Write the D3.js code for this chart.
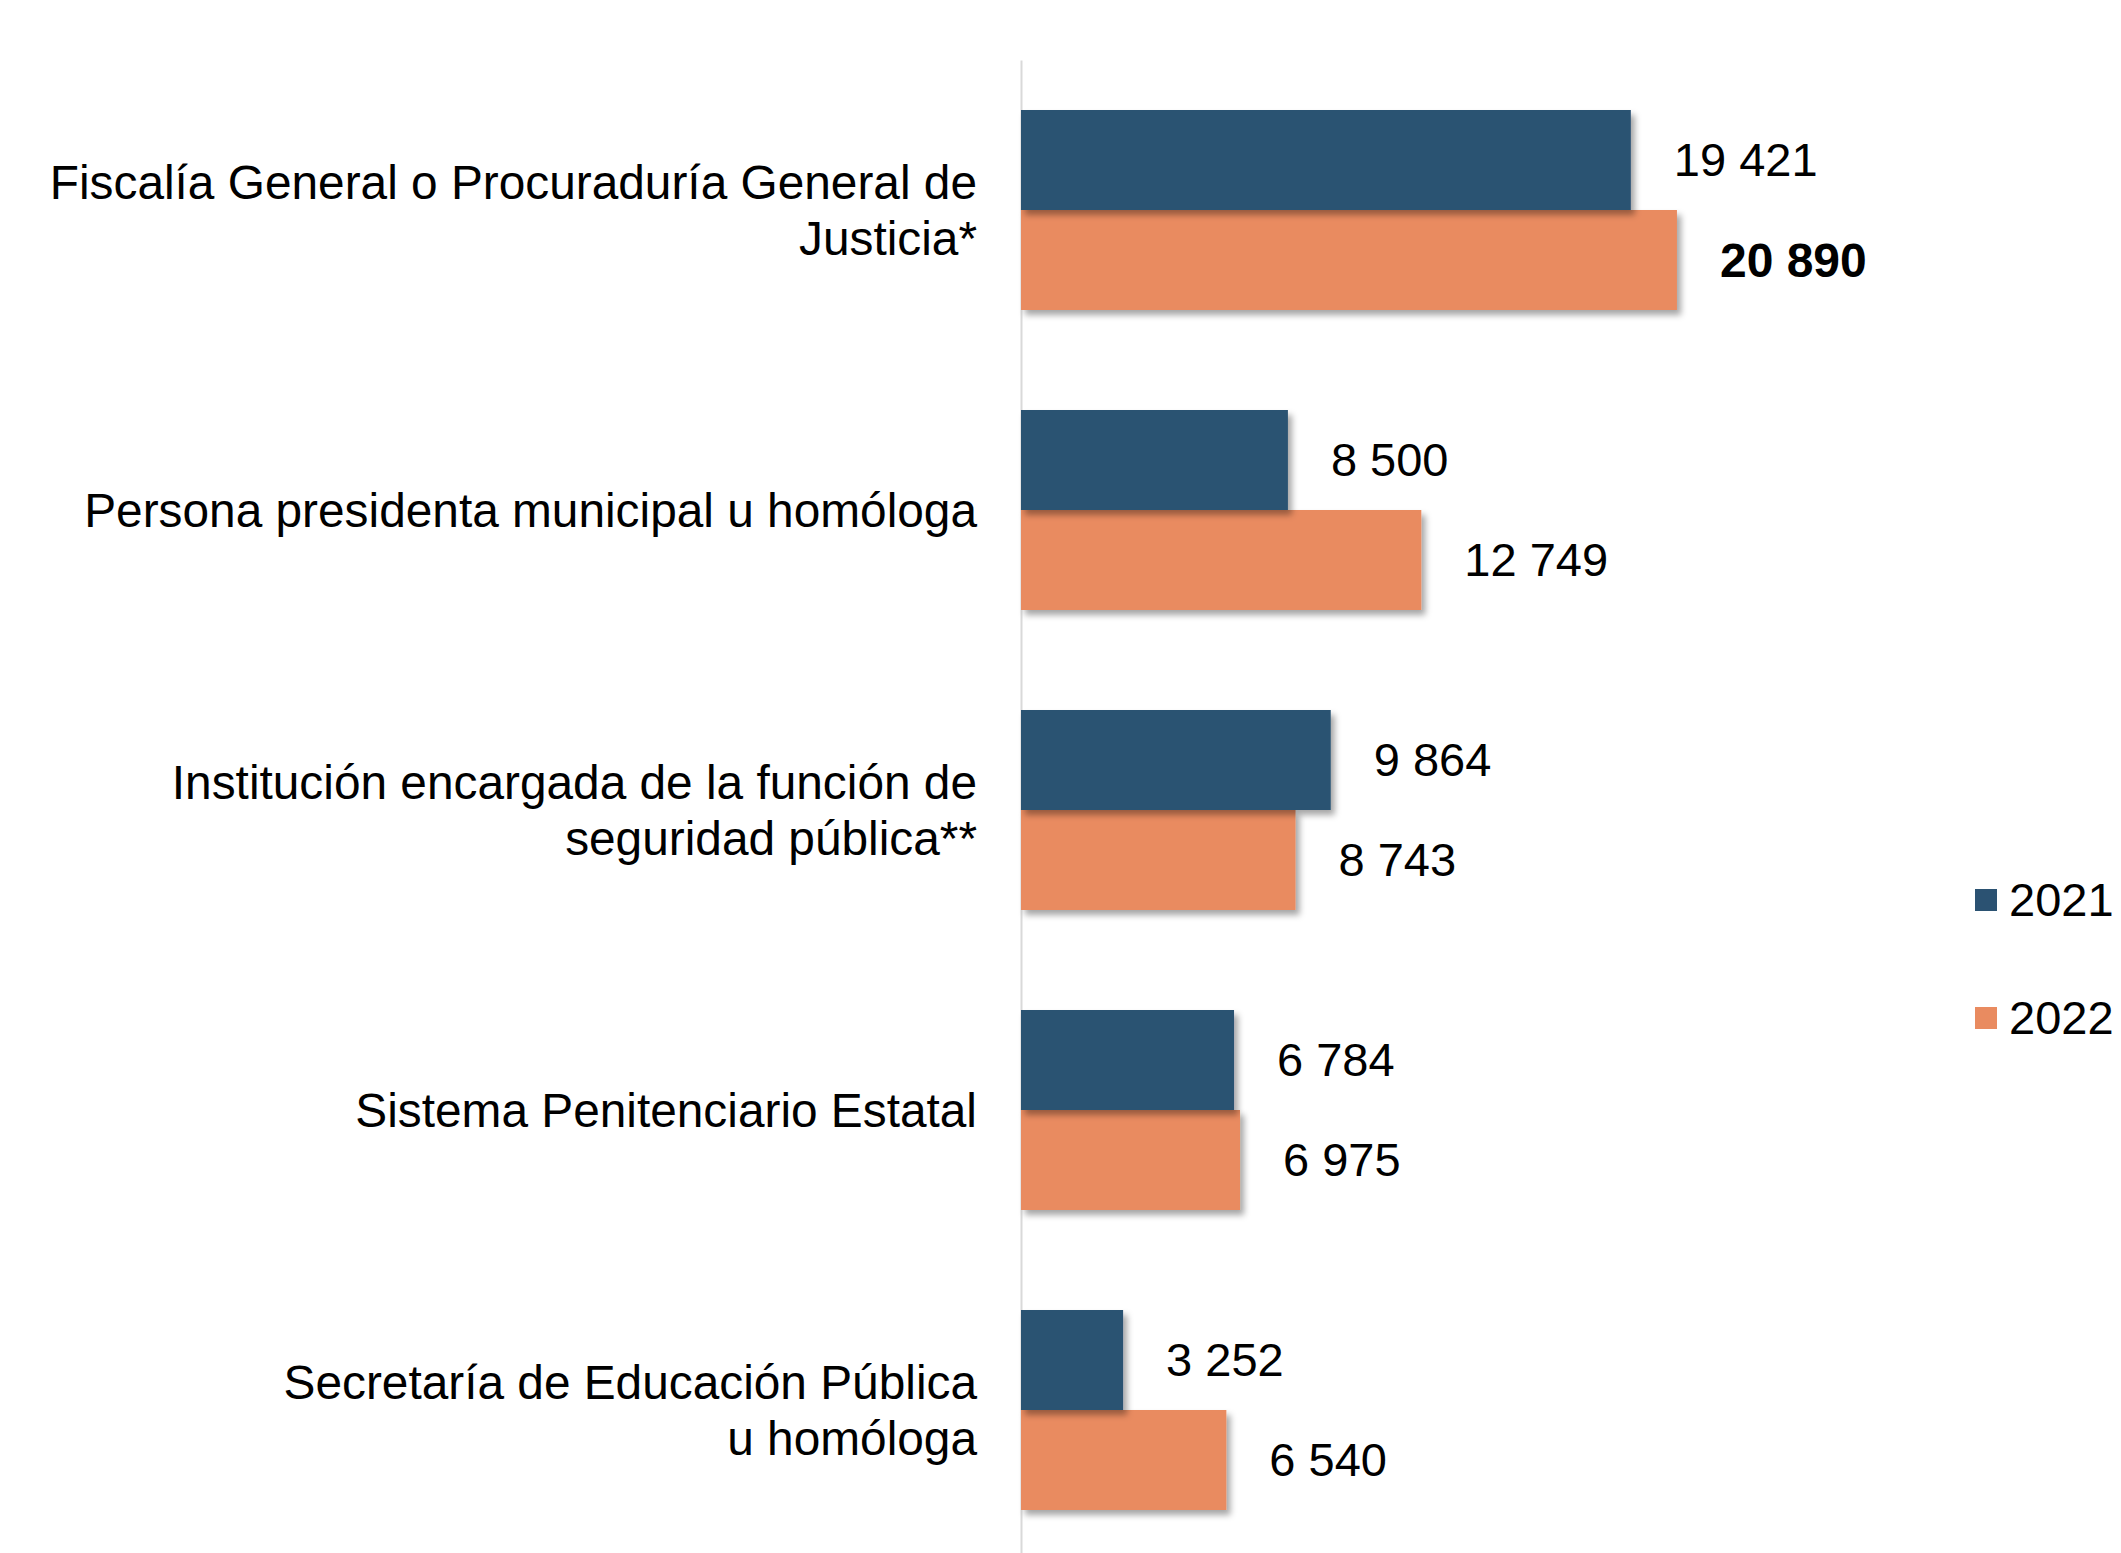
<!DOCTYPE html>
<html>
<head>
<meta charset="utf-8">
<script src="https://cdn.jsdelivr.net/npm/d3@7"></script>
<style>
  html, body { margin: 0; padding: 0; background: #fff; }
  svg { display: block; }
  text { font-family: "Liberation Sans", Arial, sans-serif; fill: #000; }
</style>
</head>
<body>
<script>
const categories = [
  "Fiscalía General o Procuraduría General de Justicia*",
  "Persona presidenta municipal u homóloga",
  "Institución encargada de la función de seguridad pública**",
  "Sistema Penitenciario Estatal",
  "Secretaría de Educación Pública u homóloga"
];
const categoryLines = [
  ["Fiscalía General o Procuraduría General de", "Justicia*"],
  ["Persona presidenta municipal u homóloga"],
  ["Institución encargada de la función de", "seguridad pública**"],
  ["Sistema Penitenciario Estatal"],
  ["Secretaría de Educación Pública", "u homóloga"]
];
const seriesNames = ["2021", "2022"];
const values2021 = [19421, 8500, 9864, 6784, 3252];
const values2022 = [20890, 12749, 8743, 6975, 6540];
const valueLabels2021 = ["19 421", "8 500", "9 864", "6 784", "3 252"];
const valueLabels2022 = ["20 890", "12 749", "8 743", "6 975", "6 540"];
const colors = ["#2B5272", "#E98B60"];

const W = 2121, H = 1553;
const svg = d3.select("body").append("svg").attr("width", W).attr("height", H);

const defs = svg.append("defs");
const f = defs.append("filter").attr("id", "shadow")
  .attr("x", "-5%").attr("y", "-10%").attr("width", "115%").attr("height", "130%");
f.append("feDropShadow").attr("dx", 4).attr("dy", 5).attr("stdDeviation", 3)
  .attr("flood-color", "#000").attr("flood-opacity", 0.35);

const x = d3.scaleLinear().domain([0, 20000]).range([1021, 1649]);
const y = d3.scaleBand().domain(categories).range([60, 1560])
  .paddingInner(1 / 3).paddingOuter(1 / 6);
const ySub = d3.scaleBand().domain(seriesNames).range([0, y.bandwidth()]);

// axis line
const axis = d3.axisLeft(y).tickSize(0).tickFormat("");
const gAxis = svg.append("g").attr("transform", `translate(${x(0)},0)`).call(axis);
gAxis.select(".domain").attr("stroke", "#D9D9D9").attr("stroke-width", 2);

const rows = categories.map((c, i) => ({
  cat: c,
  lines: categoryLines[i],
  series: [
    { name: "2021", v: values2021[i], label: valueLabels2021[i] },
    { name: "2022", v: values2022[i], label: valueLabels2022[i] }
  ]
}));

const groups = svg.selectAll("g.grp").data(rows).join("g")
  .attr("class", "grp")
  .attr("transform", d => `translate(0,${y(d.cat)})`);

groups.each(function (d) {
  const g = d3.select(this);
  const order = [d.series[1], d.series[0]];
  g.selectAll("rect").data(order).join("rect")
    .attr("x", x(0))
    .attr("y", s => ySub(s.name))
    .attr("width", s => x(s.v) - x(0))
    .attr("height", ySub.bandwidth())
    .attr("fill", s => colors[seriesNames.indexOf(s.name)])
    .attr("filter", "url(#shadow)");
  g.selectAll("text.val").data(d.series).join("text")
    .attr("class", "val")
    .attr("x", s => x(s.v) + 43)
    .attr("y", s => ySub(s.name) + ySub.bandwidth() / 2)
    .attr("dy", "0.35em")
    .attr("font-size", s => s.label === "20 890" ? 48 : 47)
    .attr("font-weight", s => s.label === "20 890" ? "bold" : "normal")
    .text(s => s.label);
});

// category labels
const lineH = 56;
rows.forEach(d => {
  const cy = y(d.cat) + y.bandwidth() / 2;
  const n = d.lines.length;
  const t = svg.append("text")
    .attr("text-anchor", "end")
    .attr("font-size", 47.8);
  d.lines.forEach((ln, k) => {
    t.append("tspan")
      .attr("x", 977)
      .attr("y", cy + (k - (n - 1) / 2) * lineH)
      .attr("dy", "0.35em")
      .text(ln);
  });
});

// legend
const legend = svg.append("g");
seriesNames.forEach((s, i) => {
  const cy = 900 + i * 118;
  legend.append("rect").attr("x", 1975).attr("y", cy - 11)
    .attr("width", 22).attr("height", 22).attr("fill", colors[i]);
  legend.append("text").attr("x", 2009).attr("y", cy).attr("dy", "0.35em")
    .attr("font-size", 47).text(s);
});
</script>
</body>
</html>
